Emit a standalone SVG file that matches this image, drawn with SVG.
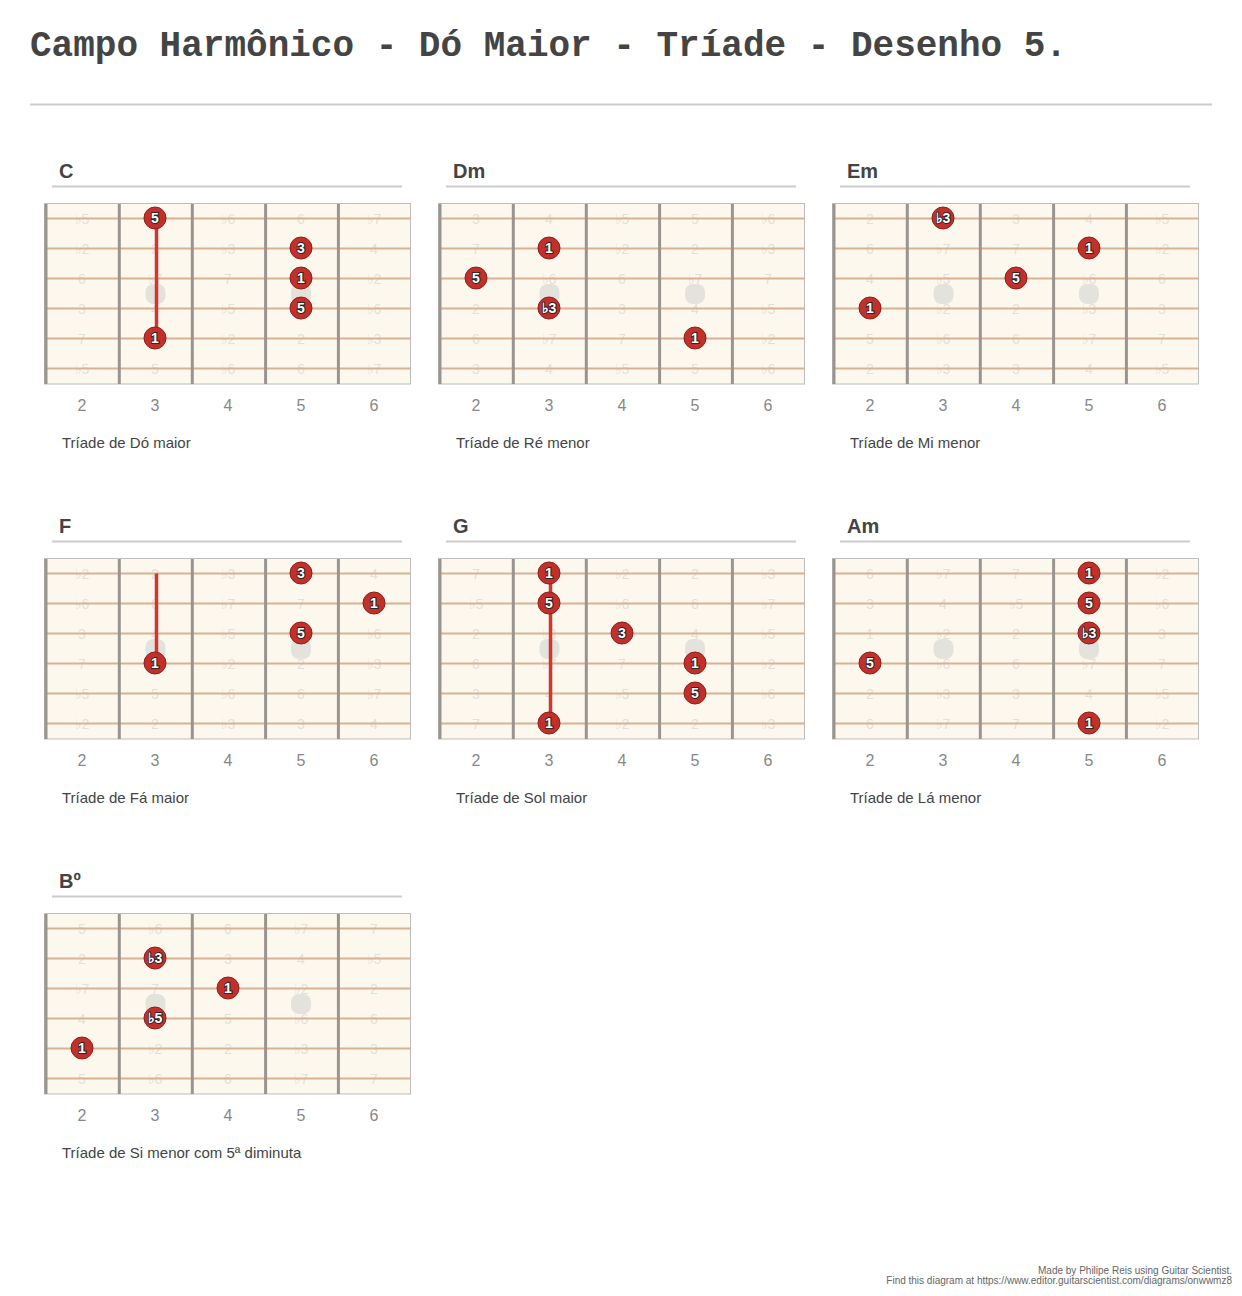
<svg xmlns="http://www.w3.org/2000/svg" xmlns:xlink="http://www.w3.org/1999/xlink" width="1242" height="1296" viewBox="0 0 1242 1296">
<style>
.title{font-family:"Liberation Mono","DejaVu Sans Mono",monospace;font-weight:bold;font-size:36px;fill:#444}
.rule{stroke:#ccc;stroke-width:2}
.bd{fill:#fdf8ee;stroke:#bdbdbd;stroke-width:1}
.fr{stroke:#99948e;stroke-width:3}
.st{stroke:#d8b293;stroke-width:2}
.inl{fill:#e4e2dd}
.iv{font-family:"Liberation Sans",Arial,sans-serif;font-size:14px;fill:#e3dfd9;text-anchor:middle}
.dot{fill:#c1302a;stroke:#8f1f1a;stroke-width:1}
.dt{font-family:"Liberation Sans",Arial,sans-serif;font-weight:bold;font-size:14px;fill:#fff;stroke:#2a2a2a;stroke-width:2;paint-order:stroke;text-anchor:middle}
.bar{stroke:#d1372e;stroke-width:3.5}
.fn{font-family:"Liberation Sans",Arial,sans-serif;font-size:16px;fill:#888;text-anchor:middle}
.nm{font-family:"Liberation Sans",Arial,sans-serif;font-weight:bold;font-size:20px;fill:#444}
.ul{stroke:#ccc;stroke-width:2}
.cap{font-family:"Liberation Sans",Arial,sans-serif;font-size:15px;fill:#444}
.ft{font-family:"Liberation Sans",Arial,sans-serif;font-size:10px;fill:#666;text-anchor:end}
</style>
<defs>
<g id="bg">
<line class="ul" x1="52" y1="186.5" x2="402" y2="186.5"/>
<rect class="bd" x="44.5" y="203.5" width="366" height="180.5"/>
</g>
<g id="fg">
<line class="st" x1="44.5" y1="218.5" x2="410.5" y2="218.5"/>
<line class="st" x1="44.5" y1="248.5" x2="410.5" y2="248.5"/>
<line class="st" x1="44.5" y1="278.5" x2="410.5" y2="278.5"/>
<line class="st" x1="44.5" y1="308.5" x2="410.5" y2="308.5"/>
<line class="st" x1="44.5" y1="338.5" x2="410.5" y2="338.5"/>
<line class="st" x1="44.5" y1="368.5" x2="410.5" y2="368.5"/>
<line class="fr" x1="46" y1="204" x2="46" y2="384"/>
<line class="fr" x1="119.3" y1="204" x2="119.3" y2="384"/>
<line class="fr" x1="192.3" y1="204" x2="192.3" y2="384"/>
<line class="fr" x1="265.6" y1="204" x2="265.6" y2="384"/>
<line class="fr" x1="338.4" y1="204" x2="338.4" y2="384"/>
<rect class="inl" x="145.5" y="284" width="20" height="20" rx="8"/>
<rect class="inl" x="291" y="284" width="20" height="20" rx="8"/>
<text class="fn" x="82" y="410.5">2</text>
<text class="fn" x="155" y="410.5">3</text>
<text class="fn" x="228" y="410.5">4</text>
<text class="fn" x="301" y="410.5">5</text>
<text class="fn" x="374" y="410.5">6</text>
</g>
</defs>

<text class="title" x="30" y="56">Campo Harmônico - Dó Maior - Tríade - Desenho 5.</text>
<line class="rule" x1="30" y1="104.5" x2="1212" y2="104.5"/>

<g id="chord-c">
<use xlink:href="#bg"/>
<g class="iv">
<text x="82" y="223.5">♭5</text><text x="228" y="223.5">♭6</text><text x="301" y="223.5">6</text><text x="374" y="223.5">♭7</text>
<text x="82" y="253.5">♭2</text><text x="155" y="253.5">2</text><text x="228" y="253.5">♭3</text><text x="374" y="253.5">4</text>
<text x="82" y="283.5">6</text><text x="155" y="283.5">♭7</text><text x="228" y="283.5">7</text><text x="374" y="283.5">♭2</text>
<text x="82" y="313.5">3</text><text x="155" y="313.5">4</text><text x="228" y="313.5">♭5</text><text x="374" y="313.5">♭6</text>
<text x="82" y="343.5">7</text><text x="228" y="343.5">♭2</text><text x="301" y="343.5">2</text><text x="374" y="343.5">♭3</text>
<text x="82" y="373.5">♭5</text><text x="155" y="373.5">5</text><text x="228" y="373.5">♭6</text><text x="301" y="373.5">6</text><text x="374" y="373.5">♭7</text>
</g>
<use xlink:href="#fg"/>
<line class="bar" x1="156.5" y1="218.5" x2="156.5" y2="338.5"/>
<circle class="dot" cx="155" cy="218" r="11"/><text class="dt" x="155" y="223">5</text>
<circle class="dot" cx="301" cy="248" r="11"/><text class="dt" x="301" y="253">3</text>
<circle class="dot" cx="301" cy="278" r="11"/><text class="dt" x="301" y="283">1</text>
<circle class="dot" cx="301" cy="308" r="11"/><text class="dt" x="301" y="313">5</text>
<circle class="dot" cx="155" cy="338" r="11"/><text class="dt" x="155" y="343">1</text>
<text class="nm" x="59" y="178">C</text>
<text class="cap" x="62" y="448">Tríade de Dó maior</text>
</g>

<g id="chord-dm" transform="translate(394,0)">
<use xlink:href="#bg"/>
<g class="iv">
<text x="82" y="223.5">3</text><text x="155" y="223.5">4</text><text x="228" y="223.5">♭5</text><text x="301" y="223.5">5</text><text x="374" y="223.5">♭6</text>
<text x="82" y="253.5">7</text><text x="228" y="253.5">♭2</text><text x="301" y="253.5">2</text><text x="374" y="253.5">♭3</text>
<text x="155" y="283.5">♭6</text><text x="228" y="283.5">6</text><text x="301" y="283.5">♭7</text><text x="374" y="283.5">7</text>
<text x="82" y="313.5">2</text><text x="228" y="313.5">3</text><text x="301" y="313.5">4</text><text x="374" y="313.5">♭5</text>
<text x="82" y="343.5">6</text><text x="155" y="343.5">♭7</text><text x="228" y="343.5">7</text><text x="374" y="343.5">♭2</text>
<text x="82" y="373.5">3</text><text x="155" y="373.5">4</text><text x="228" y="373.5">♭5</text><text x="301" y="373.5">5</text><text x="374" y="373.5">♭6</text>
</g>
<use xlink:href="#fg"/>
<circle class="dot" cx="155" cy="248" r="11"/><text class="dt" x="155" y="253">1</text>
<circle class="dot" cx="82" cy="278" r="11"/><text class="dt" x="82" y="283">5</text>
<circle class="dot" cx="155" cy="308" r="11"/><text class="dt" x="155" y="313">♭3</text>
<circle class="dot" cx="301" cy="338" r="11"/><text class="dt" x="301" y="343">1</text>
<text class="nm" x="59" y="178">Dm</text>
<text class="cap" x="62" y="448">Tríade de Ré menor</text>
</g>

<g id="chord-em" transform="translate(788,0)">
<use xlink:href="#bg"/>
<g class="iv">
<text x="82" y="223.5">2</text><text x="228" y="223.5">3</text><text x="301" y="223.5">4</text><text x="374" y="223.5">♭5</text>
<text x="82" y="253.5">6</text><text x="155" y="253.5">♭7</text><text x="228" y="253.5">7</text><text x="374" y="253.5">♭2</text>
<text x="82" y="283.5">4</text><text x="155" y="283.5">♭5</text><text x="301" y="283.5">♭6</text><text x="374" y="283.5">6</text>
<text x="155" y="313.5">♭2</text><text x="228" y="313.5">2</text><text x="301" y="313.5">♭3</text><text x="374" y="313.5">3</text>
<text x="82" y="343.5">5</text><text x="155" y="343.5">♭6</text><text x="228" y="343.5">6</text><text x="301" y="343.5">♭7</text><text x="374" y="343.5">7</text>
<text x="82" y="373.5">2</text><text x="155" y="373.5">♭3</text><text x="228" y="373.5">3</text><text x="301" y="373.5">4</text><text x="374" y="373.5">♭5</text>
</g>
<use xlink:href="#fg"/>
<circle class="dot" cx="155" cy="218" r="11"/><text class="dt" x="155" y="223">♭3</text>
<circle class="dot" cx="301" cy="248" r="11"/><text class="dt" x="301" y="253">1</text>
<circle class="dot" cx="228" cy="278" r="11"/><text class="dt" x="228" y="283">5</text>
<circle class="dot" cx="82" cy="308" r="11"/><text class="dt" x="82" y="313">1</text>
<text class="nm" x="59" y="178">Em</text>
<text class="cap" x="62" y="448">Tríade de Mi menor</text>
</g>

<g id="chord-f" transform="translate(0,355)">
<use xlink:href="#bg"/>
<g class="iv">
<text x="82" y="223.5">♭2</text><text x="155" y="223.5">2</text><text x="228" y="223.5">♭3</text><text x="374" y="223.5">4</text>
<text x="82" y="253.5">♭6</text><text x="155" y="253.5">6</text><text x="228" y="253.5">♭7</text><text x="301" y="253.5">7</text>
<text x="82" y="283.5">3</text><text x="155" y="283.5">4</text><text x="228" y="283.5">♭5</text><text x="374" y="283.5">♭6</text>
<text x="82" y="313.5">7</text><text x="228" y="313.5">♭2</text><text x="301" y="313.5">2</text><text x="374" y="313.5">♭3</text>
<text x="82" y="343.5">♭5</text><text x="155" y="343.5">5</text><text x="228" y="343.5">♭6</text><text x="301" y="343.5">6</text><text x="374" y="343.5">♭7</text>
<text x="82" y="373.5">♭2</text><text x="155" y="373.5">2</text><text x="228" y="373.5">♭3</text><text x="301" y="373.5">3</text><text x="374" y="373.5">4</text>
</g>
<use xlink:href="#fg"/>
<line class="bar" x1="156.5" y1="218.5" x2="156.5" y2="308.5"/>
<circle class="dot" cx="301" cy="218" r="11"/><text class="dt" x="301" y="223">3</text>
<circle class="dot" cx="374" cy="248" r="11"/><text class="dt" x="374" y="253">1</text>
<circle class="dot" cx="301" cy="278" r="11"/><text class="dt" x="301" y="283">5</text>
<circle class="dot" cx="155" cy="308" r="11"/><text class="dt" x="155" y="313">1</text>
<text class="nm" x="59" y="178">F</text>
<text class="cap" x="62" y="448">Tríade de Fá maior</text>
</g>

<g id="chord-g" transform="translate(394,355)">
<use xlink:href="#bg"/>
<g class="iv">
<text x="82" y="223.5">7</text><text x="228" y="223.5">♭2</text><text x="301" y="223.5">2</text><text x="374" y="223.5">♭3</text>
<text x="82" y="253.5">♭5</text><text x="228" y="253.5">♭6</text><text x="301" y="253.5">6</text><text x="374" y="253.5">♭7</text>
<text x="82" y="283.5">2</text><text x="155" y="283.5">♭3</text><text x="301" y="283.5">4</text><text x="374" y="283.5">♭5</text>
<text x="82" y="313.5">6</text><text x="155" y="313.5">♭7</text><text x="228" y="313.5">7</text><text x="374" y="313.5">♭2</text>
<text x="82" y="343.5">3</text><text x="155" y="343.5">4</text><text x="228" y="343.5">♭5</text><text x="374" y="343.5">♭6</text>
<text x="82" y="373.5">7</text><text x="228" y="373.5">♭2</text><text x="301" y="373.5">2</text><text x="374" y="373.5">♭3</text>
</g>
<use xlink:href="#fg"/>
<line class="bar" x1="156.5" y1="218.5" x2="156.5" y2="368.5"/>
<circle class="dot" cx="155" cy="218" r="11"/><text class="dt" x="155" y="223">1</text>
<circle class="dot" cx="155" cy="248" r="11"/><text class="dt" x="155" y="253">5</text>
<circle class="dot" cx="228" cy="278" r="11"/><text class="dt" x="228" y="283">3</text>
<circle class="dot" cx="301" cy="308" r="11"/><text class="dt" x="301" y="313">1</text>
<circle class="dot" cx="301" cy="338" r="11"/><text class="dt" x="301" y="343">5</text>
<circle class="dot" cx="155" cy="368" r="11"/><text class="dt" x="155" y="373">1</text>
<text class="nm" x="59" y="178">G</text>
<text class="cap" x="62" y="448">Tríade de Sol maior</text>
</g>

<g id="chord-am" transform="translate(788,355)">
<use xlink:href="#bg"/>
<g class="iv">
<text x="82" y="223.5">6</text><text x="155" y="223.5">♭7</text><text x="228" y="223.5">7</text><text x="374" y="223.5">♭2</text>
<text x="82" y="253.5">3</text><text x="155" y="253.5">4</text><text x="228" y="253.5">♭5</text><text x="374" y="253.5">♭6</text>
<text x="82" y="283.5">1</text><text x="155" y="283.5">♭2</text><text x="228" y="283.5">2</text><text x="374" y="283.5">3</text>
<text x="155" y="313.5">♭6</text><text x="228" y="313.5">6</text><text x="301" y="313.5">♭7</text><text x="374" y="313.5">7</text>
<text x="82" y="343.5">2</text><text x="155" y="343.5">♭3</text><text x="228" y="343.5">3</text><text x="301" y="343.5">4</text><text x="374" y="343.5">♭5</text>
<text x="82" y="373.5">6</text><text x="155" y="373.5">♭7</text><text x="228" y="373.5">7</text><text x="374" y="373.5">♭2</text>
</g>
<use xlink:href="#fg"/>
<circle class="dot" cx="301" cy="218" r="11"/><text class="dt" x="301" y="223">1</text>
<circle class="dot" cx="301" cy="248" r="11"/><text class="dt" x="301" y="253">5</text>
<circle class="dot" cx="301" cy="278" r="11"/><text class="dt" x="301" y="283">♭3</text>
<circle class="dot" cx="82" cy="308" r="11"/><text class="dt" x="82" y="313">5</text>
<circle class="dot" cx="301" cy="368" r="11"/><text class="dt" x="301" y="373">1</text>
<text class="nm" x="59" y="178">Am</text>
<text class="cap" x="62" y="448">Tríade de Lá menor</text>
</g>

<g id="chord-bdim" transform="translate(0,710)">
<use xlink:href="#bg"/>
<g class="iv">
<text x="82" y="223.5">5</text><text x="155" y="223.5">♭6</text><text x="228" y="223.5">6</text><text x="301" y="223.5">♭7</text><text x="374" y="223.5">7</text>
<text x="82" y="253.5">2</text><text x="228" y="253.5">3</text><text x="301" y="253.5">4</text><text x="374" y="253.5">♭5</text>
<text x="82" y="283.5">♭7</text><text x="155" y="283.5">7</text><text x="301" y="283.5">♭2</text><text x="374" y="283.5">2</text>
<text x="82" y="313.5">4</text><text x="228" y="313.5">5</text><text x="301" y="313.5">♭6</text><text x="374" y="313.5">6</text>
<text x="155" y="343.5">♭2</text><text x="228" y="343.5">2</text><text x="301" y="343.5">♭3</text><text x="374" y="343.5">3</text>
<text x="82" y="373.5">5</text><text x="155" y="373.5">♭6</text><text x="228" y="373.5">6</text><text x="301" y="373.5">♭7</text><text x="374" y="373.5">7</text>
</g>
<use xlink:href="#fg"/>
<circle class="dot" cx="155" cy="248" r="11"/><text class="dt" x="155" y="253">♭3</text>
<circle class="dot" cx="228" cy="278" r="11"/><text class="dt" x="228" y="283">1</text>
<circle class="dot" cx="155" cy="308" r="11"/><text class="dt" x="155" y="313">♭5</text>
<circle class="dot" cx="82" cy="338" r="11"/><text class="dt" x="82" y="343">1</text>
<text class="nm" x="59" y="178">Bº</text>
<text class="cap" x="62" y="448">Tríade de Si menor com 5ª diminuta</text>
</g>

<text class="ft" x="1232" y="1273.5">Made by Philipe Reis using Guitar Scientist.</text>
<text class="ft" x="1232" y="1283.5">Find this diagram at https://www.editor.guitarscientist.com/diagrams/onwwmz8</text>
</svg>
